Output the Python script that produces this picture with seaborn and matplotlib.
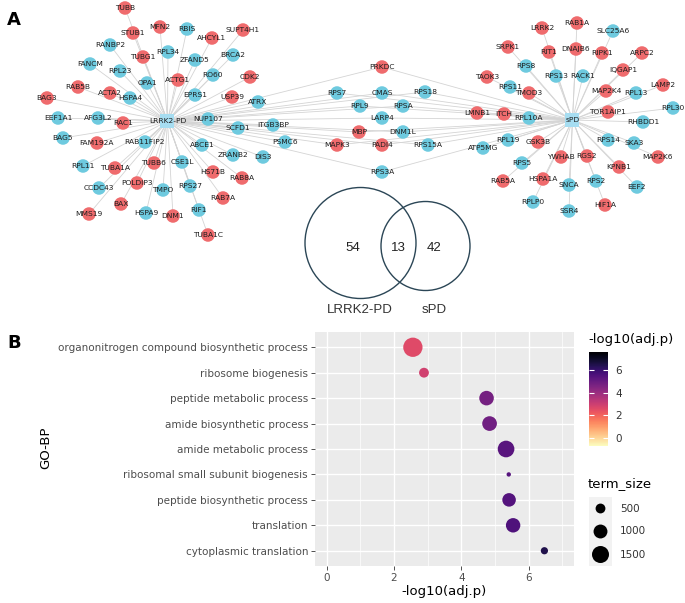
import numpy as np
import pandas as pd
import matplotlib
matplotlib.use("Agg")
import matplotlib.pyplot as plt
import matplotlib.colors as mcolors
from matplotlib import cm
from matplotlib.patches import Circle
from matplotlib.collections import LineCollection
from matplotlib.transforms import blended_transform_factory
import seaborn as sns

# ---------------- panel A: interactors of each hub ----------------
HUBS = ["LRRK2-PD", "sPD"]

LRRK2_ONLY = ["TUBB", "STUB1", "MFN2", "RBIS", "SUPT4H1", "AHCYL1", "RANBP2", "RPL34",
              "ZFAND5", "BRCA2", "TUBG1", "FANCM", "RPL23", "ACTG1", "RO60", "CDK2",
              "OPA1", "RAB5B", "ACTA2", "HSPA4", "EPRS1", "USP39", "ATRX", "BAG3",
              "EEF1A1", "AFG3L2", "RAC1", "NUP107", "SCFD1", "ITGB3BP", "BAG5", "FAM192A",
              "RAB11FIP2", "ABCE1", "PSMC6", "DIS3", "ZRANB2", "RAB8A", "RPL11", "TUBA1A",
              "TUBB6", "CSE1L", "HS71B", "CCDC43", "POLDIP3", "TMPO", "RPS27", "RAB7A",
              "BAX", "MMS19", "HSPA9", "DNM1", "RIF1", "TUBA1C"]

SHARED = ["PRKDC", "RPS7", "CMAS", "RPS18", "RPL9", "RPSA", "LARP4", "MBP", "DNM1L",
          "MAPK3", "PADI4", "RPS15A", "RPS3A"]

SPD_ONLY = ["RAB1A", "LRRK2", "SLC25A6", "SRPK1", "RIT1", "DNAJB6", "RIPK1", "ARPC2",
            "RPS8", "RPS13", "RACK1", "IQGAP1", "TAOK3", "LAMP2", "RPS11", "TMOD3",
            "MAP2K4", "RPL13", "RPL30", "LMNB1", "ITCH", "RPL10A", "TOR1AIP1", "RHBDD1",
            "RPL19", "GSK3B", "RPS14", "SKA3", "ATP5MG", "YWHAB", "RGS2", "KPNB1",
            "MAP2K6", "RPS5", "RAB5A", "HSPA1A", "SNCA", "RPS2", "EEF2", "RPLP0",
            "HIF1A", "SSR4"]

# genes drawn in red; all others are blue
RED_GENES = ["TUBB", "STUB1", "MFN2", "SUPT4H1", "AHCYL1", "TUBG1", "ACTG1", "CDK2",
             "RAB5B", "ACTA2", "USP39", "BAG3", "RAC1", "FAM192A", "RAB8A", "TUBA1A",
             "TUBB6", "HS71B", "POLDIP3", "RAB7A", "BAX", "MMS19", "DNM1", "TUBA1C",
             "PRKDC", "MBP", "MAPK3", "PADI4",
             "RAB1A", "LRRK2", "SRPK1", "RIT1", "DNAJB6", "RIPK1", "ARPC2", "IQGAP1",
             "TAOK3", "LAMP2", "TMOD3", "MAP2K4", "LMNB1", "ITCH", "TOR1AIP1", "GSK3B",
             "YWHAB", "RGS2", "KPNB1", "MAP2K6", "RAB5A", "HSPA1A", "HIF1A"]

# network layout (pixel positions of the original drawing)
LAYOUT = {
    "LRRK2-PD": (167.5, 121), "sPD": (572.5, 120),
    "TUBB": (125, 8), "STUB1": (133, 33), "MFN2": (160, 27), "RBIS": (187, 29),
    "SUPT4H1": (243, 30), "AHCYL1": (212, 38), "RANBP2": (110, 45), "RPL34": (168, 52),
    "ZFAND5": (195, 60), "BRCA2": (233, 55), "TUBG1": (143, 57), "FANCM": (90, 64),
    "RPL23": (120, 71), "ACTG1": (178, 80), "RO60": (213, 75), "CDK2": (250, 77),
    "OPA1": (147, 83), "RAB5B": (78, 87), "ACTA2": (110, 93), "HSPA4": (130, 98),
    "EPRS1": (195, 95), "USP39": (232, 97), "ATRX": (258, 102), "BAG3": (47, 98),
    "EEF1A1": (58, 118), "AFG3L2": (98, 118), "RAC1": (123, 123), "NUP107": (208, 119),
    "SCFD1": (238, 128), "ITGB3BP": (273, 125), "BAG5": (63, 138), "FAM192A": (97, 143),
    "RAB11FIP2": (145, 142), "ABCE1": (202, 145), "PSMC6": (285, 142), "DIS3": (263, 157),
    "ZRANB2": (233, 155), "RAB8A": (242, 178), "RPL11": (83, 166), "TUBA1A": (115, 168),
    "TUBB6": (154, 163), "CSE1L": (182, 162), "HS71B": (213, 172), "CCDC43": (99, 188),
    "POLDIP3": (137, 183), "TMPO": (163, 190), "RPS27": (190, 186), "RAB7A": (223, 198),
    "BAX": (121, 204), "MMS19": (89, 214), "HSPA9": (146, 213), "DNM1": (173, 216),
    "RIF1": (199, 210), "TUBA1C": (208, 235),
    "PRKDC": (382, 67), "RPS7": (337, 93), "CMAS": (382, 93), "RPS18": (425, 92),
    "RPL9": (360, 106), "RPSA": (403, 106), "LARP4": (382, 118), "MBP": (359, 132),
    "DNM1L": (403, 132), "MAPK3": (337, 145), "PADI4": (382, 145), "RPS15A": (428, 145),
    "RPS3A": (382, 172),
    "RAB1A": (577, 23), "LRRK2": (542, 28), "SLC25A6": (613, 31), "SRPK1": (508, 47),
    "RIT1": (549, 52), "DNAJB6": (576, 49), "RIPK1": (602, 53), "ARPC2": (642, 53),
    "RPS8": (526, 66), "RPS13": (556, 76), "RACK1": (583, 76), "IQGAP1": (623, 70),
    "TAOK3": (487, 77), "LAMP2": (663, 85), "RPS11": (510, 87), "TMOD3": (529, 93),
    "MAP2K4": (606, 91), "RPL13": (636, 93), "RPL30": (673, 108), "LMNB1": (477, 113),
    "ITCH": (504, 114), "RPL10A": (529, 118), "TOR1AIP1": (608, 112), "RHBDD1": (643, 122),
    "RPL19": (508, 140), "GSK3B": (538, 142), "RPS14": (608, 140), "SKA3": (634, 143),
    "ATP5MG": (483, 148), "YWHAB": (561, 157), "RGS2": (587, 156), "KPNB1": (619, 167),
    "MAP2K6": (658, 157), "RPS5": (522, 163), "RAB5A": (503, 181), "HSPA1A": (543, 179),
    "SNCA": (569, 185), "RPS2": (596, 181), "EEF2": (637, 187), "RPLP0": (533, 202),
    "HIF1A": (605, 205), "SSR4": (569, 211),
}

# ---------------- panel B: GO-BP enrichment ----------------
GO_TERMS = ["organonitrogen compound biosynthetic process", "ribosome biogenesis",
            "peptide metabolic process", "amide biosynthetic process",
            "amide metabolic process", "ribosomal small subunit biogenesis",
            "peptide biosynthetic process", "translation", "cytoplasmic translation"]
NEG_LOG10_P = [2.56, 2.89, 4.75, 4.84, 5.33, 5.41, 5.42, 5.54, 6.47]
TERM_SIZE = [1930, 500, 1100, 1120, 1440, 100, 950, 1080, 270]
SIZE_BREAKS = [500, 1000, 1500]
COLOR_BREAKS = [0, 2, 4, 6]

RED, BLUE, HUB = "#ef6b6d", "#6ecadf", "#a6ddf1"
W, H = 685, 603


def fx(px):
    return px / W


def fy(py):
    return 1 - py / H


fig = plt.figure(figsize=(6.85, 6.03), dpi=100)

# ---- panel A (pixel coordinate canvas)
axA = fig.add_axes([0, 0, 1, 1])
axA.patch.set_visible(False)

rows = []
for grp, genes in [("LRRK2-PD", LRRK2_ONLY), ("shared", SHARED), ("sPD", SPD_ONLY)]:
    for g in genes:
        rows.append({"gene": g, "group": grp, "x": LAYOUT[g][0], "y": LAYOUT[g][1],
                     "status": "red" if g in RED_GENES else "blue"})
nodes = pd.DataFrame(rows)

segs = []
for _, r in nodes.iterrows():
    hubs = HUBS if r["group"] == "shared" else [r["group"]]
    for h in hubs:
        segs.append([(r["x"], r["y"]), LAYOUT[h]])
axA.add_collection(LineCollection(segs, colors="#d4d4d4", linewidths=0.6, zorder=1))

sns.scatterplot(data=nodes, x="x", y="y", hue="status", palette={"red": RED, "blue": BLUE},
                s=95, linewidth=0, legend=False, ax=axA, zorder=2)
hub_df = pd.DataFrame({"hub": HUBS, "x": [LAYOUT[h][0] for h in HUBS],
                       "y": [LAYOUT[h][1] for h in HUBS]})
sns.scatterplot(data=hub_df, x="x", y="y", marker="s", s=110, color=HUB, linewidth=0,
                legend=False, ax=axA, zorder=2)
axA.set_xlim(0, W)
axA.set_ylim(H, 0)
axA.set_axis_off()

for _, r in pd.concat([nodes, hub_df.rename(columns={"hub": "gene"})]).iterrows():
    axA.text(r["x"], r["y"], r["gene"], fontsize=5.4, ha="center", va="center",
             color="#1e1e1e", zorder=3)

# Venn diagram
venn_counts = [len(LRRK2_ONLY), len(SHARED), len(SPD_ONLY)]
axA.add_patch(Circle((360.5, 243), 55.5, fill=False, ec="#2b4656", lw=1.0))
axA.add_patch(Circle((425.5, 246), 44.5, fill=False, ec="#2b4656", lw=1.0))
for xv, n in zip([353, 398, 434], venn_counts):
    axA.text(xv, 248, str(n), fontsize=9.5, ha="center", va="center", color="#222222",
             family="Liberation Sans")
for xv, lab in zip([360, 434], HUBS):
    axA.text(xv, 310, lab, fontsize=9.5, ha="center", va="center", color="#333333",
             family="Liberation Sans")

fig.text(fx(7), fy(20), "A", fontsize=13, fontweight="bold", va="center", ha="left")
fig.text(fx(7), fy(343), "B", fontsize=13, fontweight="bold", va="center", ha="left")

# ---- panel B dot plot
go = pd.DataFrame({"term": GO_TERMS, "neglogp": NEG_LOG10_P, "term_size": TERM_SIZE})
norm = mcolors.Normalize(-0.75, 7.6)
size_kw = dict(sizes=(0, 200), size_norm=(0, 2000))

axB = fig.add_axes([fx(315), fy(566), (574 - 315) / W, (566 - 332) / H])
axB.set_facecolor("#ebebeb")
sns.scatterplot(data=go, x="neglogp", y="term", hue="neglogp", palette="magma_r",
                hue_norm=norm, size="term_size", linewidth=0, legend=False, ax=axB,
                zorder=3, **size_kw)
axB.set_xlim(-0.35, 7.35)
axB.set_ylim(len(GO_TERMS) - 0.4, -0.6)
axB.set_xticks([0, 2, 4, 6])
axB.set_xticks([1, 3, 5, 7], minor=True)
axB.grid(which="major", color="white", lw=1.0, zorder=0)
axB.grid(which="minor", axis="x", color="white", lw=0.5, zorder=0)
axB.set_axisbelow(True)
for s in axB.spines.values():
    s.set_visible(False)
axB.tick_params(which="major", length=3, width=0.6, color="#333333", labelcolor="#4d4d4d",
                labelsize=7.5, pad=2)
axB.tick_params(which="minor", length=0)
axB.set_xlabel("")
axB.set_ylabel("")
fig.text(fx(444), fy(592), "-log10(adj.p)", fontsize=9.5, ha="center", va="center")
fig.text(fx(46), fy(448), "GO-BP", fontsize=9.5, ha="center", va="center", rotation=90)

# colour bar legend
fig.text(fx(588), fy(339), "-log10(adj.p)", fontsize=9.5, ha="left", va="center")
cax = fig.add_axes([fx(589), fy(446), (608 - 589) / W, (446 - 352) / H])
cb = fig.colorbar(cm.ScalarMappable(norm=norm, cmap="magma_r"), cax=cax, ticks=COLOR_BREAKS)
cb.outline.set_visible(False)
cax.tick_params(direction="in", length=3.5, width=0.8, color="white", left=True, right=True,
                labelsize=7.5, labelcolor="#333333", pad=5)

# size legend
fig.text(fx(588), fy(484), "term_size", fontsize=9.5, ha="left", va="center")
lax = fig.add_axes([fx(589), fy(566), (612 - 589) / W, (566 - 497) / H])
lax.set_facecolor("#f2f2f2")
leg = pd.DataFrame({"pos": range(len(SIZE_BREAKS)), "term_size": SIZE_BREAKS})
sns.scatterplot(data=leg, x=[0] * len(SIZE_BREAKS), y="pos", size="term_size", color="black",
                linewidth=0, legend=False, ax=lax, **size_kw)
lax.set_xlim(-1, 1)
lax.set_ylim(len(SIZE_BREAKS) - 0.5, -0.5)
lax.set_xticks([])
lax.set_yticks([])
lax.set_xlabel("")
lax.set_ylabel("")
for s in lax.spines.values():
    s.set_visible(False)
tr = blended_transform_factory(lax.transAxes, lax.transData)
for i, v in enumerate(SIZE_BREAKS):
    lax.text(1.35, i, str(v), transform=tr, fontsize=7.5, color="#333333", va="center")

fig.savefig("out.png", dpi=100)
